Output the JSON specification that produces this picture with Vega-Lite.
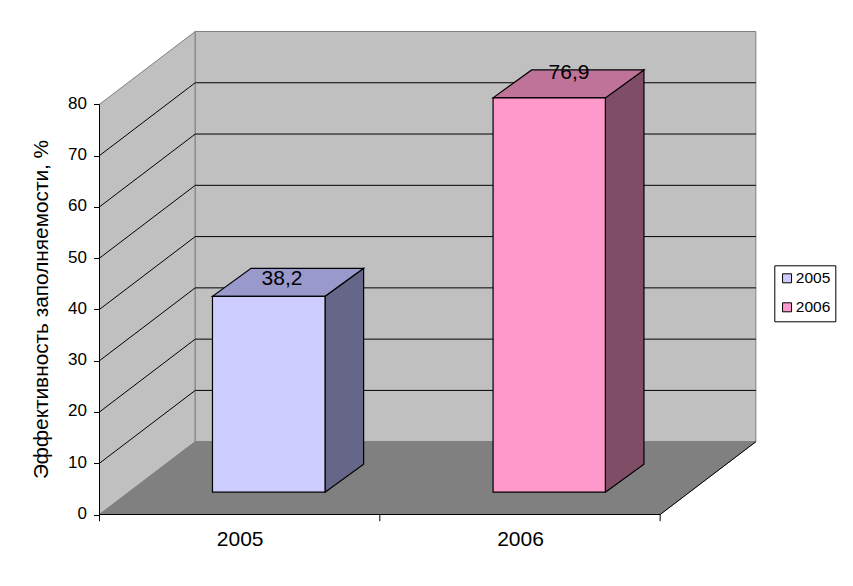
{"$schema":"https://vega.github.io/schema/vega-lite/v6.json","width":656.8,"height":482.5,"autosize":{"type":"none"},"padding":{"left":99.5,"top":32,"right":96.7,"bottom":71.5},"background":"white",
"config":{"view":{"stroke":null},"font":"Liberation Sans"},
"datasets":{
"walls":[
{"part":"side","x":0,"lo":0,"hi":80},{"part":"side","x":0.3415,"lo":14.2,"hi":94.2},
{"part":"back","x":0.3415,"lo":14.2,"hi":94.2},{"part":"back","x":2.3415,"lo":14.2,"hi":94.2},
{"part":"floor","x":0,"lo":0,"hi":0},{"part":"floor","x":0.3415,"lo":0,"hi":14.2},{"part":"floor","x":2,"lo":0,"hi":14.2},{"part":"floor","x":2.3415,"lo":14.2,"hi":14.2}],
"grid":[
{"v":10,"x":0,"y":10},{"v":10,"x":0.3415,"y":24.2},{"v":10,"x":2.3415,"y":24.2},
{"v":20,"x":0,"y":20},{"v":20,"x":0.3415,"y":34.2},{"v":20,"x":2.3415,"y":34.2},
{"v":30,"x":0,"y":30},{"v":30,"x":0.3415,"y":44.2},{"v":30,"x":2.3415,"y":44.2},
{"v":40,"x":0,"y":40},{"v":40,"x":0.3415,"y":54.2},{"v":40,"x":2.3415,"y":54.2},
{"v":50,"x":0,"y":50},{"v":50,"x":0.3415,"y":64.2},{"v":50,"x":2.3415,"y":64.2},
{"v":60,"x":0,"y":60},{"v":60,"x":0.3415,"y":74.2},{"v":60,"x":2.3415,"y":74.2},
{"v":70,"x":0,"y":70},{"v":70,"x":0.3415,"y":84.2},{"v":70,"x":2.3415,"y":84.2}],
"faces":[
{"part":"2005 side","x":0.8045,"lo":4.35,"hi":42.55},{"part":"2005 side","x":0.9422,"lo":9.81,"hi":48.01},
{"part":"2005 top","x":0.403,"lo":42.55,"hi":42.55},{"part":"2005 top","x":0.5407,"lo":42.55,"hi":48.01},{"part":"2005 top","x":0.8045,"lo":42.55,"hi":48.01},{"part":"2005 top","x":0.9422,"lo":48.01,"hi":48.01},
{"part":"2006 side","x":1.8045,"lo":4.35,"hi":81.25},{"part":"2006 side","x":1.9422,"lo":9.81,"hi":86.71},
{"part":"2006 top","x":1.404,"lo":81.25,"hi":81.25},{"part":"2006 top","x":1.5417,"lo":81.25,"hi":86.71},{"part":"2006 top","x":1.8045,"lo":81.25,"hi":86.71},{"part":"2006 top","x":1.9422,"lo":86.71,"hi":86.71}],
"bars":[
{"year":"2005","x0":0.403,"x1":0.8045,"base":4.35,"top":42.55,"label":"38,2","lx":0.651,"ly":46},
{"year":"2006","x0":1.404,"x1":1.8045,"base":4.35,"top":81.25,"label":"76,9","lx":1.675,"ly":86.2}],
"axisLines":[
{"x":0,"x2":0,"y":0,"y2":80},{"x":0,"x2":2,"y":0,"y2":0},{"x":2,"x2":2.3415,"y":0,"y2":14.2},
{"x":0,"x2":0,"y":-1.3,"y2":0},{"x":1,"x2":1,"y":-1.3,"y2":0},{"x":2,"x2":2,"y":-1.3,"y2":0}]},
"layer":[
{"data":{"name":"walls"},"mark":{"type":"area","stroke":"#808080","strokeWidth":1,"clip":false},
"encoding":{
"x":{"field":"x","type":"quantitative","scale":{"domain":[0,2.343],"nice":false,"zero":false},
"axis":{"title":null,"values":[0.5,1.5],"labelExpr":"datum.value == 0.5 ? '2005' : '2006'","domain":false,"ticks":false,"grid":false,"labelFontSize":21,"labelColor":"#000000","labelPadding":14}},
"y":{"field":"lo","type":"quantitative","scale":{"domain":[0,94.1],"nice":false,"zero":false},
"axis":{"title":"Эффективность заполняемости, %","values":[0,10,20,30,40,50,60,70,80],"format":"d","domain":false,"grid":false,"tickColor":"#000000","tickSize":6,"labelFontSize":17,"labelColor":"#000000","labelPadding":7,"labelOffset":-1,"titleFontSize":20.8,"titleFontWeight":"normal","titleColor":"#000000","titleX":-48,"titleY":277}},
"y2":{"field":"hi"},
"detail":{"field":"part"},
"fill":{"field":"part","type":"nominal","legend":null,"scale":{"domain":["side","back","floor","2005 side","2005 top","2006 side","2006 top"],"range":["#c0c0c0","#c0c0c0","#808080","#666688","#9999cc","#804d66","#bf7399"]}}}},
{"data":{"name":"grid"},"mark":{"type":"line","color":"#000000","strokeWidth":1},
"encoding":{"x":{"field":"x","type":"quantitative"},"y":{"field":"y","type":"quantitative"},"detail":{"field":"v"}}},
{"data":{"name":"axisLines"},"mark":{"type":"rule","color":"#000000","strokeWidth":1,"clip":false},
"encoding":{"x":{"field":"x","type":"quantitative"},"x2":{"field":"x2"},"y":{"field":"y","type":"quantitative"},"y2":{"field":"y2"}}},
{"data":{"name":"faces"},"mark":{"type":"area","stroke":"#000000","strokeWidth":1.2},
"encoding":{"x":{"field":"x","type":"quantitative"},"y":{"field":"lo","type":"quantitative"},"y2":{"field":"hi"},"detail":{"field":"part"},
"fill":{"field":"part","type":"nominal","legend":null}}},
{"data":{"name":"bars"},"mark":{"type":"rect","stroke":"#000000","strokeWidth":1.2},
"encoding":{"x":{"field":"x0","type":"quantitative"},"x2":{"field":"x1"},"y":{"field":"base","type":"quantitative"},"y2":{"field":"top"},
"color":{"field":"year","type":"nominal","scale":{"domain":["2005","2006"],"range":["#ccccff","#ff99cc"]},
"legend":{"title":null,"orient":"none","legendX":674.8,"legendY":233.3,"symbolType":"square","symbolSize":81,"symbolStrokeColor":"#000000","symbolStrokeWidth":1,"symbolOpacity":1,"labelFontSize":15.5,"labelColor":"#000000","strokeColor":"#000000","fillColor":"#ffffff","padding":5,"rowPadding":12,"labelOffset":1,"clipHeight":16}}}},
{"data":{"name":"bars"},"mark":{"type":"text","fontSize":21,"color":"#000000","align":"center","baseline":"middle"},
"encoding":{"x":{"field":"lx","type":"quantitative"},"y":{"field":"ly","type":"quantitative"},"text":{"field":"label"}}}
]}
